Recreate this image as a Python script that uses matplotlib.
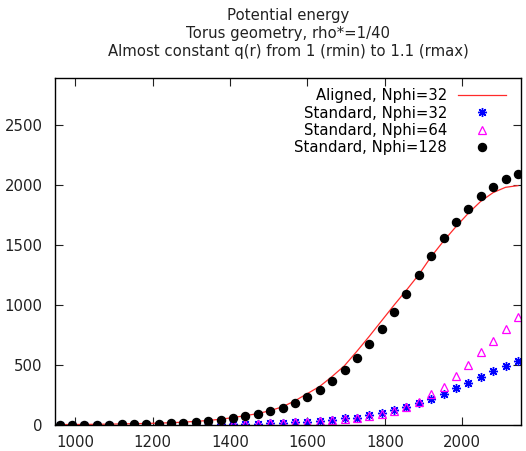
import matplotlib
matplotlib.use("Agg")
import matplotlib.pyplot as plt

# timestep values (shared by all series)
steps = [960, 992, 1024, 1056, 1088, 1120, 1152, 1184, 1216, 1248,
         1280, 1312, 1344, 1376, 1408, 1440, 1472, 1504, 1536, 1568,
         1600, 1632, 1664, 1696, 1728, 1760, 1792, 1824, 1856, 1888,
         1920, 1952, 1984, 2016, 2048, 2080, 2112, 2144]

aligned_32 = [4, 4, 5, 6, 7, 9, 11, 13, 16, 19,
              24, 30, 38, 48, 62, 78, 95, 120, 152, 202,
              262, 322, 405, 495, 615, 740, 870, 1000, 1125, 1255,
              1405, 1535, 1655, 1767, 1866, 1939, 1983, 1997]

standard_32 = [0, 0, 0, 0, 0, 1, 1, 1, 2, 2,
               3, 3, 4, 5, 7, 9, 12, 14, 18, 24,
               28, 34, 42, 55, 60, 80, 100, 125, 150, 183,
               219, 258, 308, 350, 403, 450, 492, 536]

standard_64 = [0, 0, 0, 0, 0, 1, 1, 1, 2, 2,
               3, 3, 4, 5, 7, 9, 12, 14, 18, 24,
               28, 34, 42, 52, 58, 75, 95, 120, 152, 195,
               258, 317, 405, 503, 605, 697, 800, 897]

standard_128 = [2, 2, 3, 3, 4, 8, 8, 9, 11, 16,
                18, 25, 31, 40, 55, 76, 90, 113, 142, 183,
                236, 292, 369, 455, 561, 678, 800, 946, 1097, 1252,
                1411, 1559, 1696, 1804, 1907, 1987, 2050, 2094]

xticks = [1000, 1200, 1400, 1600, 1800, 2000]
yticks = [0, 500, 1000, 1500, 2000, 2500]

fig = plt.figure(figsize=(5.26, 4.51), dpi=100)
ax = fig.add_axes([55 / 526, 1 - 425 / 451, 466 / 526, 347 / 451])

ax.plot(steps, aligned_32, color="#ff2a2a", lw=0.9, label="Aligned, Nphi=32")
ax.plot(steps, standard_32, ls="none", marker=(8, 2, 0), ms=6.5, mew=1.0,
        color="#0000ff", label="Standard, Nphi=32")
ax.plot(steps, standard_64, ls="none", marker="^", ms=5.5, mew=0.9,
        mfc="none", mec="#ff00ff", label="Standard, Nphi=64")
ax.plot(steps, standard_128, ls="none", marker="o", ms=5.8,
        color="black", label="Standard, Nphi=128")

ax.set_xlim(948, 2152)
ax.set_ylim(0, 2895)
ax.set_xticks(xticks)
ax.set_yticks(yticks)
ax.tick_params(direction="in", length=6, width=0.8, top=True, right=True,
               labelsize=10.75, colors="#222222")
ax.tick_params(axis="x", pad=7.5)
ax.tick_params(axis="y", pad=9)
for s in ax.spines.values():
    s.set_linewidth(1.0)

ax.set_title("Potential energy\nTorus geometry, rho*=1/40\n"
             "Almost constant q(r) from 1 (rmin) to 1.1 (rmax)",
             fontsize=10.75, linespacing=1.25, pad=16, color="#222222")

ax.legend(loc="upper right", markerfirst=False, frameon=False,
          fontsize=10.75, handlelength=3.2, handletextpad=0.75,
          labelspacing=0.15, borderaxespad=0.3, bbox_to_anchor=(0.99, 1.0))

fig.savefig("out.png", dpi=100)
